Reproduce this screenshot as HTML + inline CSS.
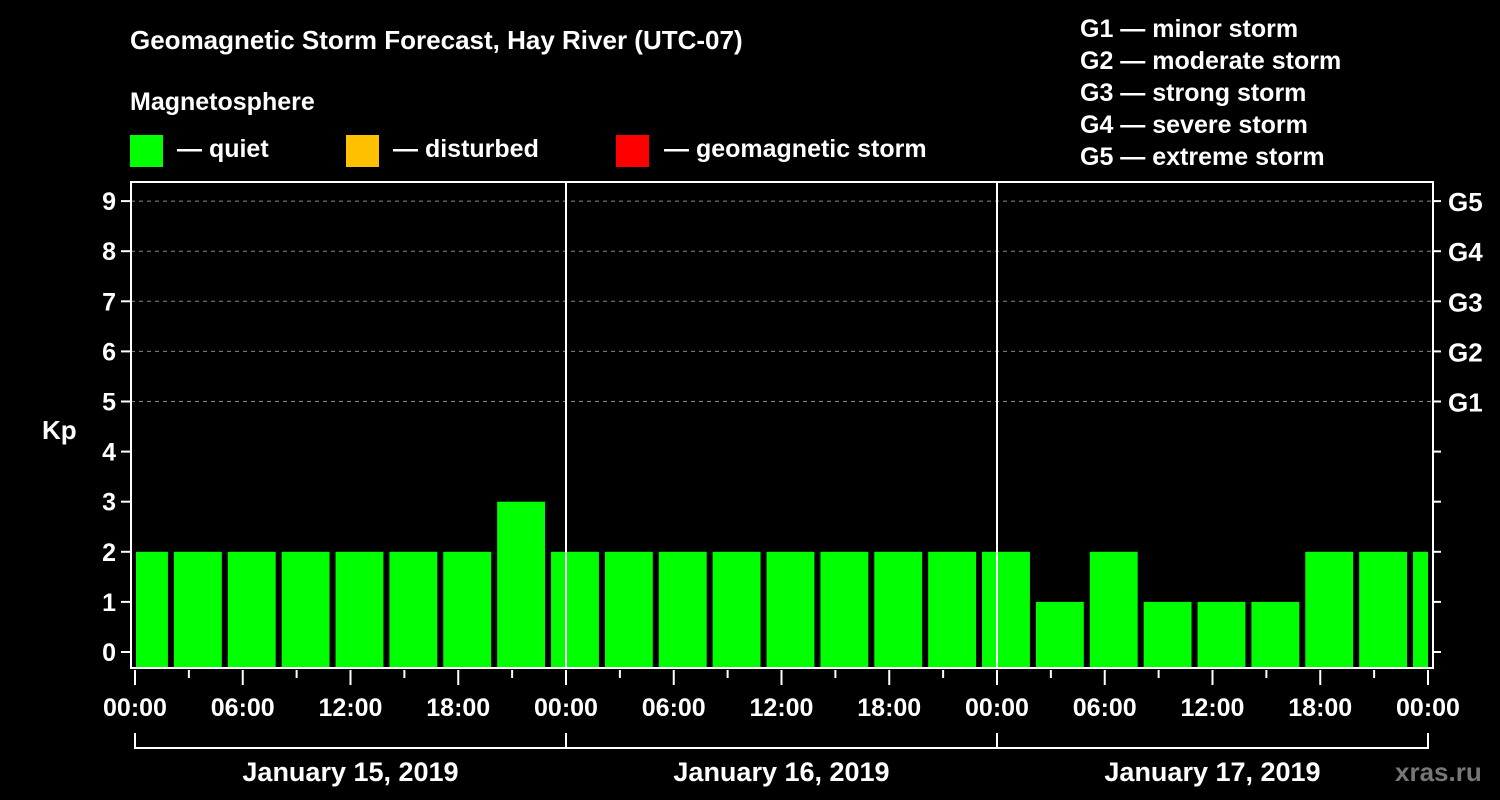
<!DOCTYPE html>
<html><head><meta charset="utf-8"><style>
body{margin:0;background:#000;}
svg{display:block;font-family:"Liberation Sans",Arial,sans-serif;font-weight:bold;fill:#fff;}
</style></head><body>
<svg width="1500" height="800" viewBox="0 0 1500 800">
<rect x="0" y="0" width="1500" height="800" fill="#000"/>
<text x="130" y="49" font-size="26">Geomagnetic Storm Forecast, Hay River (UTC-07)</text>
<text x="130" y="110" font-size="25">Magnetosphere</text>
<g>
<rect x="130" y="135" width="33" height="32" fill="#00ff00"/>
<text x="177" y="157" font-size="25">— quiet</text>
<rect x="346" y="135" width="33" height="32" fill="#ffc000"/>
<text x="393" y="157" font-size="25">— disturbed</text>
<rect x="616" y="135" width="33" height="32" fill="#ff0000"/>
<text x="664" y="157" font-size="25">— geomagnetic storm</text>
</g>
<g font-size="25">
<text x="1080" y="37">G1 — minor storm</text>
<text x="1080" y="69">G2 — moderate storm</text>
<text x="1080" y="101">G3 — strong storm</text>
<text x="1080" y="133">G4 — severe storm</text>
<text x="1080" y="165">G5 — extreme storm</text>
</g>
<text x="42" y="439" font-size="26">Kp</text>
<g id="grid"></g>
<g id="bars"></g>
<g id="axes"></g>
<text x="1395" y="781" font-size="26" fill="#777" style="fill:#777">xras.ru</text>
</svg>
<script>
const kpValues = [2,2,2,2,2,2,2,3, 2,2,2,2,2,2,2,2, 2,1,2,1,1,1,2,2,2];
const barStartHours = -1; // first 3h interval starts at 17:00 UTC previous day = -1h local
const dayLabels = ["January 15, 2019","January 16, 2019","January 17, 2019"];
const timeLabels = ["00:00","06:00","12:00","18:00"];
const gLabels = ["G1","G2","G3","G4","G5"];

const NS="http://www.w3.org/2000/svg";
const L=135,R=1428,T=182,B=668,LA=131,RA=1433;
const xs=h=>L+h*(R-L)/72;
const ys=k=>652-k*50.1;
function mk(tag,attrs,parent,txt){const e=document.createElementNS(NS,tag);for(const k in attrs)e.setAttribute(k,attrs[k]);if(txt!==undefined)e.textContent=txt;parent.appendChild(e);return e;}
const grid=document.getElementById('grid'),bars=document.getElementById('bars'),axes=document.getElementById('axes');
// gridlines
for(let k=5;k<=9;k++){
 const g=mk('line',{x1:LA,x2:RA,y1:ys(k),y2:ys(k),stroke:'#888','stroke-width':1,'stroke-dasharray':'4,4'},grid);
 
 
}
// bars
kpValues.forEach((v,i)=>{
 let x0=xs(barStartHours+i*3)+3, x1=xs(barStartHours+i*3+3)-3;
 x0=Math.max(x0,LA+5); x1=Math.min(x1,RA-5);
 const c=v>=5?'#ff0000':(v>=4?'#ffc000':'#00ff00');
 const r=mk('rect',{x:x0,y:ys(v),width:x1-x0,height:B-ys(v),fill:c},bars);
 
 
});
// frame
const fr=mk('rect',{x:LA,y:T,width:RA-LA,height:B-T,fill:'none',stroke:'#fff','stroke-width':2},axes);


for(let d=1;d<3;d++){
 const s=mk('line',{x1:xs(d*24),x2:xs(d*24),y1:T,y2:B,stroke:'#fff','stroke-width':2},axes);
 
 
}
// y ticks
for(let k=0;k<=9;k++){
 mk('line',{x1:LA-10,x2:LA,y1:ys(k),y2:ys(k),stroke:'#fff','stroke-width':2},axes);
 mk('line',{x1:RA,x2:RA+8,y1:ys(k),y2:ys(k),stroke:'#fff','stroke-width':2},axes);
 const t=mk('text',{x:116,y:ys(k)+9,'font-size':25,'text-anchor':'end'},axes,String(k));
 
 
}
gLabels.forEach((g,i)=>{
 const t=mk('text',{x:1448,y:ys(5+i)+10,'font-size':26},axes,g);
 
 
});
// x ticks
for(let h=0;h<=72;h+=3){
 const major=h%6===0;
 mk('line',{x1:xs(h),x2:xs(h),y1:B+2,y2:B+(major?17:10),stroke:'#fff','stroke-width':2},axes);
 if(major){
  const t=mk('text',{x:xs(h),y:716,'font-size':25,'text-anchor':'middle'},axes,timeLabels[(h/6)%4]);
  
  
 }
}
// day brackets
dayLabels.forEach((d,i)=>{
 const a=xs(i*24),b=xs(i*24+24);
 mk('path',{d:`M${a},733 V748 H${b} V733`,fill:'none',stroke:'#fff','stroke-width':2},axes);
 const t=mk('text',{x:(a+b)/2,y:781,'font-size':27,'text-anchor':'middle'},axes,d);
 
 
});
</script>
</body></html>
